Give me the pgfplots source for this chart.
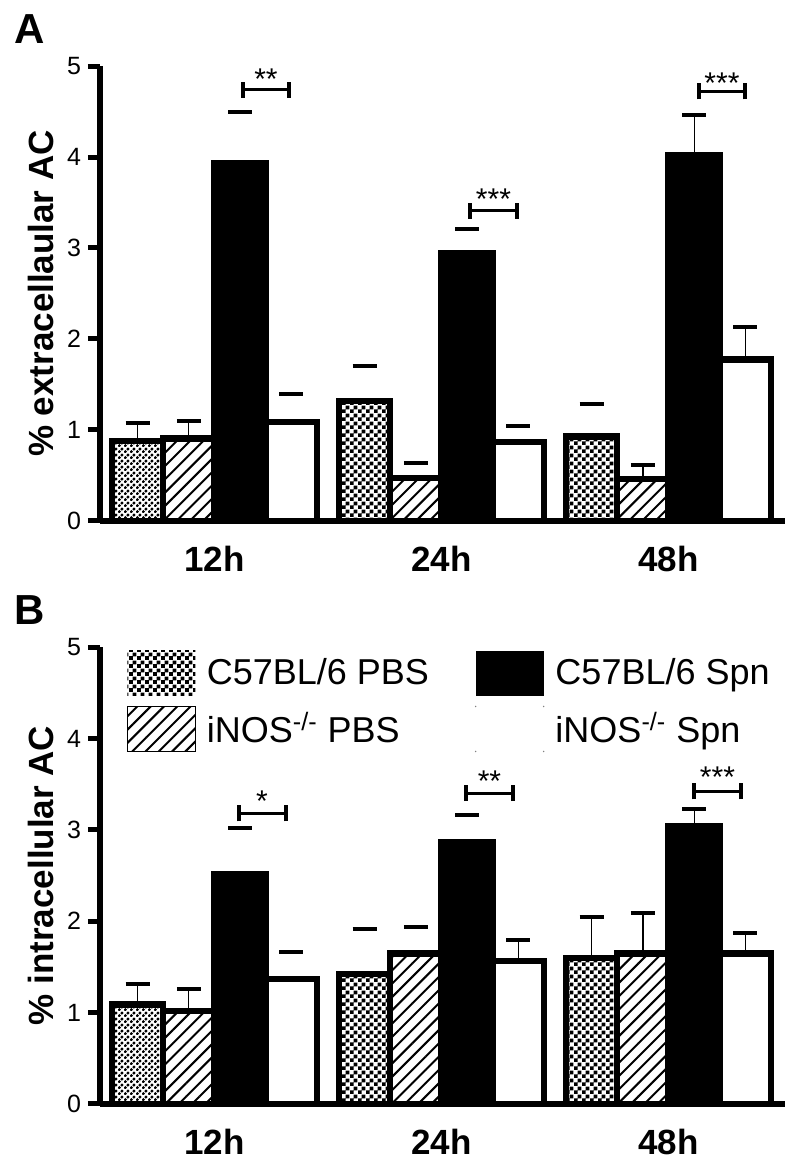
\documentclass[border=0pt]{standalone}
\usepackage{fontspec}
\setmainfont{Liberation Sans}
\usepackage{pgfplots}
\pgfplotsset{compat=1.18}
\usetikzlibrary{patterns}

\pgfdeclarepatternformonly{myhatch}{\pgfqpoint{-1pt}{-1pt}}{\pgfqpoint{7.65pt}{7.65pt}}{\pgfqpoint{6.65pt}{6.65pt}}{%
  \pgfsetlinewidth{1pt}\pgfpathmoveto{\pgfqpoint{0pt}{0pt}}\pgfpathlineto{\pgfqpoint{6.7pt}{6.7pt}}\pgfusepath{stroke}}
\pgfdeclarepatternformonly{mydots}{\pgfqpoint{0pt}{0pt}}{\pgfqpoint{2.8pt}{2.8pt}}{\pgfqpoint{2.8pt}{2.8pt}}{%
  \pgfpathcircle{\pgfqpoint{0.7pt}{0.7pt}}{0.9pt}\pgfpathcircle{\pgfqpoint{2.1pt}{2.1pt}}{0.9pt}\pgfusepath{fill}}
\pgfdeclarepatternformonly{mychecker}{\pgfqpoint{0pt}{0pt}}{\pgfqpoint{3.8pt}{3.8pt}}{\pgfqpoint{3.8pt}{3.8pt}}{%
  \pgfpathrectangle{\pgfqpoint{0pt}{0pt}}{\pgfqpoint{1.95pt}{1.95pt}}\pgfpathrectangle{\pgfqpoint{1.9pt}{1.9pt}}{\pgfqpoint{1.95pt}{1.95pt}}\pgfusepath{fill}}

\pgfplotsset{
  panel/.style={
    scale only axis, width=342.5pt,
    xmin=0, xmax=685, ymin=0, ymax=5,
    ybar,
    axis x line=bottom, axis y line=left,
    axis line style={line width=3pt,-},
    axis on top, clip=false,
    ytick={0,1,2,3,4,5},
    tick align=outside, major tick length=6pt,
    ytick style={line width=2.5pt,black},
    xtick={114.5,341.5,568.5}, xticklabels={12h,24h,48h},
    xtick style={draw=none},
    xticklabel style={font=\fontsize{17.5}{17.5}\selectfont\bfseries, yshift=-3pt},
    yticklabel style={font=\fontsize{12.5}{12.5}\selectfont},
    /pgf/number format/assume math mode=true,
    ylabel style={font=\fontsize{17.5}{17.5}\selectfont\bfseries, at={(axis description cs:-0.068,0.5)}, anchor=base},
  },
  mybar/.style={bar width=51.25, bar shift=0pt, line width=3.2pt, draw=black},
  errline/.style={forget plot, draw=none, fill=none, bar shift=0pt,
    error bars/.cd, y dir=plus, y explicit,
    error bar style={black, line width=0.6pt},
    error mark options={rotate=90, black, line width=2pt, mark size=6pt}},
  errcap/.style={forget plot, draw=none, fill=none, bar shift=0pt,
    error bars/.cd, y dir=plus, y explicit,
    error bar style={white, line width=0.6pt},
    error mark options={rotate=90, black, line width=2pt, mark size=6pt}},
}

\newcommand{\stars}[3]{\node[font=\fontsize{15}{15}\selectfont, inner sep=0pt, yshift=-3.1pt] at (axis cs:#1,#2) {#3};}
\newcommand{\brk}[3]{%
  \draw[line width=1.5pt] (axis cs:#1,#3) -- (axis cs:#2,#3);
  \draw[line width=2pt] ([yshift=-4pt]axis cs:#1,#3) -- ([yshift=4pt]axis cs:#1,#3);
  \draw[line width=2pt] ([yshift=-4pt]axis cs:#2,#3) -- ([yshift=4pt]axis cs:#2,#3);}

\begin{document}
\begin{tikzpicture}
\path[use as bounding box] (0pt,0pt) rectangle (400pt,581.5pt);
\node[anchor=base west, font=\fontsize{21}{21}\selectfont\bfseries, inner sep=0pt] at (7pt,559.5pt) {A};
\node[anchor=base west, font=\fontsize{21}{21}\selectfont\bfseries, inner sep=0pt] at (7pt,269pt) {B};

% ---------------- Panel A
\begin{axis}[panel, at={(50pt,321pt)}, anchor=south west, height=227.5pt,
  ylabel={\% extracellaular AC}]
\addplot[errline] coordinates {(37.6,0.88) +- (0,0.20) (88.9,0.905) +- (0,0.195) (542.9,0.46) +- (0,0.16) (594.1,4.02) +- (0,0.44) (645.4,1.775) +- (0,0.355)};
\addplot[errcap] coordinates {(140.1,3.935) +- (0,0.555) (191.4,1.085) +- (0,0.315) (264.6,1.32) +- (0,0.38) (315.9,0.47) +- (0,0.165) (367.1,2.945) +- (0,0.265) (418.4,0.865) +- (0,0.175) (491.6,0.93) +- (0,0.36)};
\addplot[mybar, forget plot, pattern=mydots] coordinates {(37.6,0.88)};
\addplot[mybar, pattern=mychecker] coordinates {(264.6,1.32) (491.6,0.93)};
\addplot[mybar, fill=black] coordinates {(140.1,3.935) (367.1,2.945) (594.1,4.02)};
\addplot[mybar, pattern=myhatch] coordinates {(88.9,0.905) (315.9,0.47) (542.9,0.46)};
\addplot[mybar, fill=white] coordinates {(191.4,1.085) (418.4,0.865) (645.4,1.775)};
\brk{143}{189}{4.74}\stars{166}{4.92}{**}
\brk{370}{417}{3.41}\stars{393.5}{3.60}{***}
\brk{599}{645}{4.72}\stars{622}{4.88}{***}
\end{axis}

% ---------------- Panel B
\begin{axis}[panel, at={(50pt,29.5pt)}, anchor=south west, height=228.5pt,
  ylabel={\% intracellular AC},
  legend columns=2, legend cell align=left,
  legend style={at={(axis cs:26.7,4.96)}, anchor=north west, draw=none, fill=none,
    inner sep=0pt, outer sep=0pt, font=\fontsize{18}{18}\selectfont,
    nodes={inner sep=0pt}, column sep=5.5pt, row sep=5pt}]
\addplot[errline] coordinates {(37.6,1.09) +- (0,0.22) (88.9,1.015) +- (0,0.245) (418.4,1.565) +- (0,0.225) (491.6,1.595) +- (0,0.455) (542.9,1.645) +- (0,0.445) (594.1,3.035) +- (0,0.195) (645.4,1.645) +- (0,0.225)};
\addplot[errcap] coordinates {(140.1,2.515) +- (0,0.505) (191.4,1.365) +- (0,0.295) (264.6,1.425) +- (0,0.49) (315.9,1.645) +- (0,0.295) (367.1,2.865) +- (0,0.295)};
\addplot[mybar, forget plot, pattern=mydots] coordinates {(37.6,1.09)};
\addplot[mybar, pattern=mychecker,
  legend image code/.code={\path[draw=none, pattern=mychecker] (0pt,-11.25pt) rectangle (34pt,11.25pt);}]
  coordinates {(264.6,1.425) (491.6,1.595)};
\addlegendentry{\makebox[128.5pt][l]{C57BL/6 PBS}}
\addplot[mybar, fill=black,
  legend image code/.code={\path[draw=none, fill=black] (0pt,-11.25pt) rectangle (34pt,11.25pt);}]
  coordinates {(140.1,2.515) (367.1,2.865) (594.1,3.035)};
\addlegendentry{C57BL/6 Spn}
\addplot[mybar, pattern=myhatch,
  legend image code/.code={\path[draw=black, line width=0.6pt, pattern=myhatch] (0pt,-11.25pt) rectangle (34pt,11.25pt);}]
  coordinates {(88.9,1.015) (315.9,1.645) (542.9,1.645)};
\addlegendentry{\makebox[128.5pt][l]{iNOS\textsuperscript{-/-} PBS}}
\addplot[mybar, fill=white,
  legend image code/.code={\path[draw=none, fill=none] (0pt,-11.25pt) rectangle (34pt,11.25pt);
    \path[draw=none, fill=black!50] (0pt,-11.25pt) circle (0.4pt) (34pt,-11.25pt) circle (0.4pt) (0pt,11.25pt) circle (0.4pt) (34pt,11.25pt) circle (0.4pt);}]
  coordinates {(191.4,1.365) (418.4,1.565) (645.4,1.645)};
\addlegendentry{iNOS\textsuperscript{-/-} Spn}
\brk{139}{186}{3.18}\stars{162}{3.38}{*}
\brk{366}{413}{3.40}\stars{389.5}{3.60}{**}
\brk{594}{641}{3.42}\stars{617.5}{3.64}{***}
\end{axis}
\end{tikzpicture}
\end{document}
